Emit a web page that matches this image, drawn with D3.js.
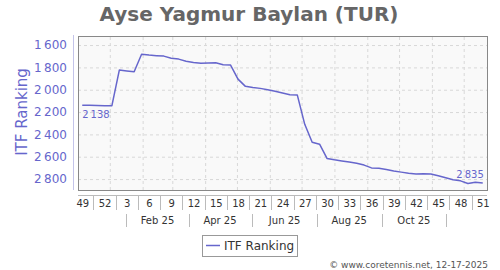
<!DOCTYPE html>
<html>
<head>
<meta charset="utf-8">
<script src="https://cdn.jsdelivr.net/npm/d3@7"></script>
<style>
  body { margin: 0; background: #fff; }
  text { font-family: "DejaVu Sans", sans-serif; }
</style>
</head>
<body>
<div id="chart"></div>
<script>
// weekly ITF ranking, week 49/2024 .. week 51/2025
let weeks = [49, 50, 51, 52, 1, 2, 3, 4, 5, 6, 7, 8, 9, 10, 11, 12, 13, 14, 15, 16,
  17, 18, 19, 20, 21, 22, 23, 24, 25, 26, 27, 28, 29, 30, 31, 32, 33, 34, 35, 36,
  37, 38, 39, 40, 41, 42, 43, 44, 45, 46, 47, 48, 49, 50, 51];
let ranking = [2138, 2140, 2142, 2143, 2143, 1824, 1832, 1839, 1683, 1690,
  1695, 1699, 1718, 1726, 1745, 1756, 1764, 1761, 1758, 1776,
  1779, 1905, 1970, 1980, 1988, 2000, 2014, 2030, 2045, 2048,
  2310, 2470, 2488, 2615, 2628, 2638, 2648, 2658, 2675, 2700,
  2704, 2714, 2727, 2738, 2749, 2755, 2752, 2755, 2770, 2788,
  2806, 2816, 2840, 2828, 2835];
let yTicks = [1600, 1800, 2000, 2200, 2400, 2600, 2800];
let monthLabels = ["Feb 25", "Apr 25", "Jun 25", "Aug 25", "Oct 25"];
let monthDates = [new Date(Date.UTC(2025, 1, 15)), new Date(Date.UTC(2025, 3, 15)),
  new Date(Date.UTC(2025, 5, 15)), new Date(Date.UTC(2025, 7, 15)), new Date(Date.UTC(2025, 9, 15))];
let firstWeek = new Date(Date.UTC(2024, 11, 6));

let data = ranking.map(function(v, i) {
  return { date: d3.utcDay.offset(firstWeek, i * 7), week: weeks[i], value: v };
});

let plot = { left: 78, right: 487, top: 36, bottom: 190 };
let lineColor = "#6666cc";

let svg = d3.select("#chart").append("svg")
  .attr("width", 500)
  .attr("height", 270);

let x = d3.scaleUtc()
  .domain([new Date(Date.UTC(2024, 11, 2)), new Date(Date.UTC(2025, 11, 23))])
  .range([plot.left, plot.right]);

let y = d3.scaleLinear()
  .domain([1519, 2898])
  .range([plot.top, plot.bottom]);

let fmt = d3.formatLocale({ decimal: ".", thousands: "\u2009", grouping: [3], currency: ["", ""] }).format(",");

// title
svg.append("text")
  .attr("x", 249).attr("y", 21)
  .attr("text-anchor", "middle")
  .attr("font-size", 20).attr("font-weight", "bold")
  .attr("fill", "#666")
  .text("Ayse Yagmur Baylan (TUR)");

// plot background
svg.append("rect")
  .attr("x", plot.left).attr("y", plot.top)
  .attr("width", plot.right - plot.left).attr("height", plot.bottom - plot.top)
  .attr("fill", "#f9f9f9");

// horizontal grid
svg.append("g")
  .attr("transform", "translate(" + plot.left + ",0)")
  .call(d3.axisLeft(y).tickValues(yTicks).tickSize(-(plot.right - plot.left)).tickFormat(""))
  .call(function(g) { g.select(".domain").remove(); })
  .selectAll("line")
  .attr("stroke", "#d8d8d8").attr("stroke-dasharray", "3,3");

// vertical grid at month starts
svg.append("g")
  .attr("transform", "translate(0," + plot.bottom + ")")
  .call(d3.axisBottom(x).ticks(d3.utcMonth.every(1)).tickSize(-(plot.bottom - plot.top)).tickFormat(""))
  .call(function(g) { g.select(".domain").remove(); })
  .selectAll("line")
  .attr("stroke", "#d8d8d8").attr("stroke-dasharray", "3,3");

// plot border
svg.append("rect")
  .attr("x", plot.left + 0.5).attr("y", plot.top + 0.5)
  .attr("width", plot.right - plot.left).attr("height", plot.bottom - plot.top)
  .attr("fill", "none").attr("stroke", "#888");

// y axis
let yAxis = svg.append("g")
  .attr("transform", "translate(73,0)")
  .call(d3.axisLeft(y).tickValues(yTicks).tickSize(0).tickPadding(6).tickFormat(fmt));
yAxis.select(".domain").remove();
yAxis.selectAll("text")
  .attr("font-family", "DejaVu Sans, sans-serif")
  .attr("font-size", 12).attr("fill", lineColor);
svg.append("line")
  .attr("x1", 73.5).attr("x2", 73.5).attr("y1", 35).attr("y2", 190)
  .attr("stroke", "#c4c4ea");

svg.append("text")
  .attr("transform", "translate(27,112) rotate(-90)")
  .attr("text-anchor", "middle")
  .attr("font-size", 15).attr("fill", lineColor)
  .text("ITF Ranking");

// x axis: week numbers every 3 weeks
let labelled = data.filter(function(d, i) { return i % 3 === 0; });
let xAxis = svg.append("g")
  .attr("transform", "translate(0,195)")
  .call(d3.axisBottom(x).tickValues(labelled.map(function(d) { return d.date; }))
    .tickSize(0).tickPadding(5)
    .tickFormat(function(d, i) { return labelled[i].week; }));
xAxis.select(".domain")
  .attr("d", "M" + plot.left + ",0.5H" + plot.right)
  .attr("stroke", "#bbb");
xAxis.selectAll("text")
  .attr("font-family", "DejaVu Sans, sans-serif")
  .attr("font-size", 10).attr("fill", "#333");

// separators between week labels
let weekSeps = d3.pairs(labelled).map(function(p) {
  return (x(p[0].date) + x(p[1].date)) / 2;
});
svg.append("g").selectAll("line")
  .data(weekSeps)
  .enter().append("line")
  .attr("x1", function(d) { return Math.round(d) + 0.5; })
  .attr("x2", function(d) { return Math.round(d) + 0.5; })
  .attr("y1", 195).attr("y2", 210)
  .attr("stroke", "#bbb");

// month row
let monthX = monthDates.map(function(d) { return x(d); });
svg.append("g").selectAll("text")
  .data(monthLabels)
  .enter().append("text")
  .attr("x", function(d, i) { return monthX[i]; })
  .attr("y", 224)
  .attr("text-anchor", "middle")
  .attr("font-size", 10).attr("fill", "#333")
  .text(function(d) { return d; });

let monthSeps = d3.pairs(monthX).map(function(p) { return (p[0] + p[1]) / 2; });
monthSeps.unshift(monthX[0] - (monthX[1] - monthX[0]) / 2);
monthSeps.push(monthX[4] + (monthX[4] - monthX[3]) / 2);
svg.append("g").selectAll("line")
  .data(monthSeps)
  .enter().append("line")
  .attr("x1", function(d) { return Math.round(d) + 0.5; })
  .attr("x2", function(d) { return Math.round(d) + 0.5; })
  .attr("y1", 214).attr("y2", 227)
  .attr("stroke", "#bbb");

// ranking line
let line = d3.line()
  .x(function(d) { return x(d.date); })
  .y(function(d) { return y(d.value); });

svg.append("path")
  .datum(data)
  .attr("fill", "none")
  .attr("stroke", lineColor)
  .attr("stroke-width", 1.5)
  .attr("stroke-linejoin", "round")
  .attr("d", line);

// first / last value labels
let first = data[0], last = data[data.length - 1];
svg.append("text")
  .attr("x", x(first.date)).attr("y", y(first.value) + 13)
  .attr("font-size", 10).attr("fill", lineColor)
  .text(fmt(first.value));
svg.append("text")
  .attr("x", x(last.date) + 1).attr("y", y(last.value) - 5)
  .attr("text-anchor", "end")
  .attr("font-size", 10).attr("fill", lineColor)
  .text(fmt(last.value));

// legend
svg.append("rect")
  .attr("x", 202.5).attr("y", 235.5).attr("width", 95).attr("height", 21)
  .attr("fill", "#fff").attr("stroke", "#999");
svg.append("line")
  .attr("x1", 206).attr("x2", 220).attr("y1", 245.5).attr("y2", 245.5)
  .attr("stroke", lineColor).attr("stroke-width", 1.5);
svg.append("text")
  .attr("x", 224).attr("y", 250)
  .attr("font-size", 12).attr("fill", "#333")
  .text("ITF Ranking");

// credit
svg.append("text")
  .attr("x", 488).attr("y", 268)
  .attr("text-anchor", "end")
  .attr("font-size", 9).attr("fill", "#555")
  .text("\u00a9 www.coretennis.net, 12-17-2025");
</script>
</body>
</html>
